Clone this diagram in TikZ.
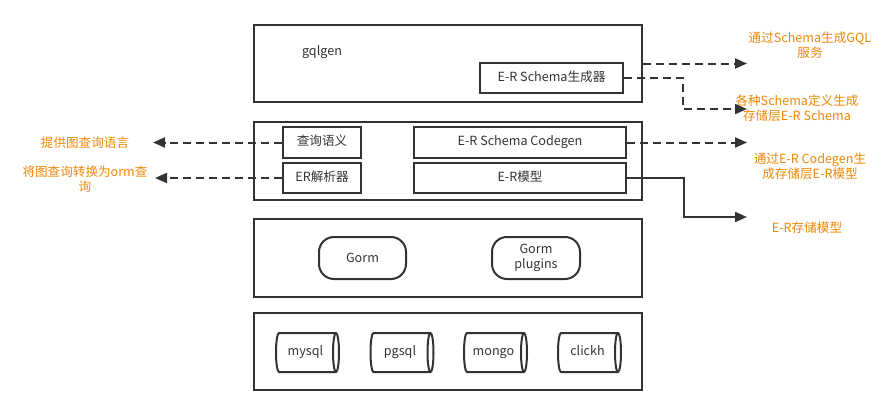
\documentclass[tikz,border=0pt]{standalone}
\usepackage{fontspec}
\newfontfamily\cjk{Noto Sans CJK SC}
\usetikzlibrary{arrows.meta,shapes.geometric}
\definecolor{linegray}{HTML}{333333}
\definecolor{noteorange}{HTML}{F08705}
\tikzset{
  every node/.style={font=\cjk\fontsize{12.6}{15}\selectfont, text=linegray, inner sep=0pt},
  layerbox/.style={draw=linegray, line width=2pt, minimum width=388pt},
  itembox/.style={draw=linegray, line width=2pt, text height=8pt, text depth=2pt},
  roundbox/.style={draw=linegray, line width=2pt, rounded corners=15pt, minimum width=87pt, minimum height=42pt, align=center},
  dbcyl/.style={cylinder, draw=linegray, line width=2pt, aspect=0.6, minimum width=39pt, minimum height=63pt, text height=8pt, text depth=2pt},
  note/.style={text=noteorange, align=center},
  flow/.style={draw=linegray, line width=2pt, -{Triangle[length=12pt,width=10pt]}},
  dashflow/.style={flow, dash pattern=on 8pt off 5pt}
}
\begin{document}
\begin{tikzpicture}[x=1pt,y=-1pt]
  \useasboundingbox (0,0) rectangle (895,415);
  % Capas
  \node[layerbox, minimum height=77pt] (gqllayer) at (448,63.5) {};
  \node[layerbox, minimum height=78pt] (erlayer) at (448,161) {};
  \node[layerbox, minimum height=78pt] (gormlayer) at (448,258) {};
  \node[layerbox, minimum height=77pt] (dblayer) at (448,351.5) {};

  % gqlgen
  \node (gqlgen) at (322,52) {gqlgen};
  \node[itembox, minimum width=143pt, minimum height=30pt] (schemagen) at (551.5,78) {E-R Schema生成器};

  % Esquema E-R
  \node[itembox, minimum width=78pt, minimum height=31pt] (semantic) at (322,142.5) {查询语义};
  \node[itembox, minimum width=78pt, minimum height=30pt] (erparser) at (322,178) {ER解析器};
  \node[itembox, minimum width=212pt, minimum height=31pt] (codegen) at (520,142.5) {E-R Schema Codegen};
  \node[itembox, minimum width=212pt, minimum height=30pt] (ermodel) at (520,178) {E-R模型};

  % Gorm
  \node[roundbox] (gorm) at (362.5,258) {Gorm};
  \node[roundbox, minimum width=88pt] (plugins) at (536,258) {Gorm\\plugins};

  % Bases de datos
  \node[dbcyl] (mysql) at (305.5,352.5) {mysql};
  \node[dbcyl] (pgsql) at (400,352.5) {pgsql};
  \node[dbcyl] (mongo) at (493.5,352.5) {mongo};
  \node[dbcyl] (clickh) at (587.5,352.5) {clickh};

  % Notas
  \node[note] (svcnote) at (810,45.5) {通过Schema生成GQL\\服务};
  \node[note] (defnote) at (797,108.5) {各种Schema定义生成\\存储层E-R Schema};
  \node[note] (codenote) at (810,166) {通过E-R Codegen生\\成存储层E-R模型};
  \node[note] (storenote) at (807,228) {E-R存储模型};
  \node[note] (querynote) at (85,143) {提供图查询语言};
  \node[note] (ormnote) at (85,179.5) {将图查询转换为orm查\\询};

  \coordinate (svcend) at (747,63.5);
  \coordinate (defend) at (747,109);
  \coordinate (codeend) at (747,142.5);
  \coordinate (storeend) at (747,217);
  \coordinate (queryend) at (153,142.5);
  \coordinate (ormend) at (155,178);

  % Flechas
  \draw[dashflow] (gqllayer.east) -- (svcend);
  \draw[dashflow] (schemagen.east) -- ++(59,0) |- (defend);
  \draw[dashflow] (codegen.east) -- (codeend);
  \draw[flow] (ermodel.east) -- ++(57,0) |- (storeend);
  \draw[dashflow] (semantic.west) -- (queryend);
  \draw[dashflow] (erparser.west) -- (ormend);
\end{tikzpicture}
\end{document}
